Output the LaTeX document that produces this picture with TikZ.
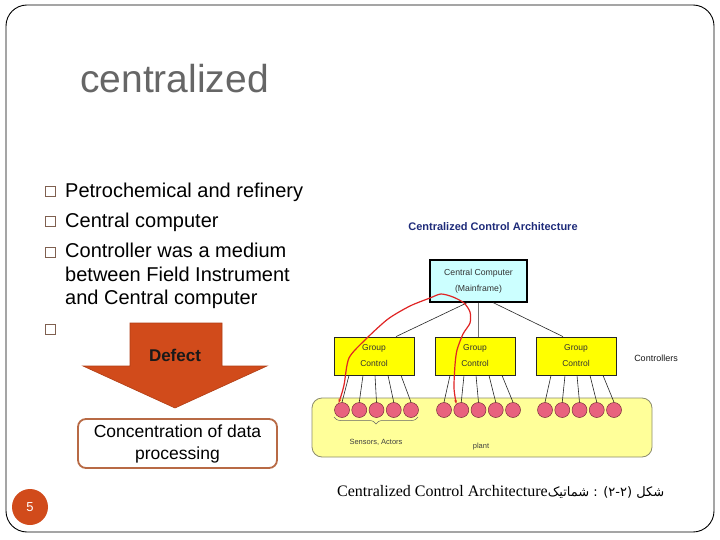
\documentclass[tikz,border=0pt]{standalone}
\usepackage{fontspec}
\setmainfont{Liberation Sans}
\newfontfamily\capserif{Liberation Serif}
\newfontfamily\arabicfont[Script=Arabic]{DejaVu Sans}
\TeXXeTstate=1
\usetikzlibrary{calc,decorations.pathreplacing,arrows.meta}
\definecolor{titlegray}{HTML}{666666}
\definecolor{arrowor}{HTML}{D14B1B}
\definecolor{arrowedge}{HTML}{B03E15}
\definecolor{boxbrown}{HTML}{B86A45}
\definecolor{bulletc}{HTML}{7F6050}
\definecolor{navyc}{HTML}{1E2B7A}
\definecolor{ccyan}{HTML}{CCFFFF}
\definecolor{gyellow}{HTML}{FFFF00}
\definecolor{plantfill}{HTML}{FFFF99}
\definecolor{plantedge}{HTML}{8C8C6E}
\definecolor{pinkc}{HTML}{E8627E}
\definecolor{pinkedge}{HTML}{7A2E3A}
\definecolor{redc}{HTML}{E02424}
\definecolor{dtext}{HTML}{333333}
\tikzset{
  bx/.style={draw=bulletc, line width=0.7pt, minimum size=10pt, inner sep=0pt},
  bt/.style={anchor=base west, inner sep=0pt, font=\fontsize{20}{23}\selectfont},
  ccbox/.style={draw=black, line width=1.1pt, fill=ccyan, minimum width=97pt, minimum height=42pt, align=center, inner sep=0pt, text=dtext, font=\fontsize{8.7}{16}\selectfont},
  gcbox/.style={draw=black!85, line width=0.8pt, fill=gyellow, minimum width=80pt, minimum height=38pt, align=center, inner sep=0pt, text=dtext, font=\fontsize{8.5}{16}\selectfont},
  sensor/.style={circle, draw=pinkedge, line width=0.5pt, fill=pinkc, minimum size=15pt, inner sep=0pt},
  thinline/.style={draw=black!85, line width=0.6pt},
}
\begin{document}
\begin{tikzpicture}[x=1pt, y=-1pt]
\useasboundingbox (0,0) rectangle (720,540);
\fill[white] (0,0) rectangle (720,540);
% outer frame
\draw[line width=0.9pt, rounded corners=21pt] (6,5) rectangle (714,532);
% title
\node[anchor=base west, inner sep=0pt, font=\fontsize{39}{46}\selectfont, text=titlegray] (title) at (80,93) {centralized};
% bullets
\node[bx] (s1) at (50.5,191.5) {};
\node[bx] (s2) at (50.5,221.5) {};
\node[bx] (s3) at (50.5,252.5) {};
\node[bx] (s4) at (50.5,329) {};
\node[bt] (t1) at (65,197) {Petrochemical and refinery};
\node[bt] (t2) at (65,227) {Central computer};
\node[bt] (t3) at (65,258) {Controller was a medium};
\node[bt] (t4) at (65,281) {between Field Instrument};
\node[bt] (t5) at (65,304) {and Central computer};
% block arrow
\path[draw=arrowedge, fill=arrowor, line width=0.6pt] (130,323) -- (222,323) -- (222,366) -- (267,366) -- (175,408) -- (83,366) -- (130,366) -- cycle;
\node[font=\bfseries\fontsize{17}{20}\selectfont, text=black!90] (defect) at (175,355) {Defect};
\node[draw=boxbrown, line width=1.8pt, rounded corners=8pt, fill=white, minimum width=199pt, minimum height=49pt, align=center, inner sep=0pt, font=\fontsize{17.5}{22}\selectfont] (conc) at (177.5,443.5) {Concentration of data\\processing};
% page number
\node[circle, fill=arrowor, minimum size=36pt, inner sep=0pt, text=white, font=\fontsize{13}{15}\selectfont] (pg) at (30,507) {5};
% diagram
\node[font=\bfseries\fontsize{11}{13}\selectfont, text=navyc] (dtitle) at (493,227) {Centralized Control Architecture};
\node[draw=plantedge, line width=0.8pt, fill=plantfill, rounded corners=10pt, minimum width=340pt, minimum height=59pt] (plant) at (482,427.5) {};
\node[ccbox] (CC) at (478.5,281) {Central Computer\\(Mainframe)};
\node[gcbox] (GL) at (374,356) {Group\\Control};
\node[gcbox] (GM) at (475,356) {Group\\Control};
\node[gcbox] (GR) at (576,356) {Group\\Control};
\foreach \g/\xs in {L/342,M/444,R/545}{
  \foreach \i in {1,...,5}{
    \node[sensor] (\g\i) at ({\xs+17.25*(\i-1)},410) {};
  }
}
\foreach \g in {L,M,R}{
  \foreach \i/\o in {1/-25,2/-11,3/1,4/14,5/27}{
    \draw[thinline] ($(G\g.south)+(\o,0)$) -- (\g\i.north);
  }
}
\draw[thinline] ($(CC.south)+(-11,0)$) -- ($(GL.north)+(22,0)$);
\draw[draw=black!55, line width=1.3pt] (CC.south) -- (CC.south |- GM.north);
\draw[thinline] ($(CC.south)+(14.5,0)$) -- ($(GR.north)+(-13,0)$);
\node[font=\fontsize{9}{11}\selectfont, text=black!90] (ctrl) at (656,358) {Controllers};
\draw[decorate, decoration={brace, mirror, amplitude=7pt}, draw=black!60, line width=0.5pt] (334,417) -- (418,417);
\node[font=\fontsize{7.5}{9}\selectfont, text=black!75] (sens) at (376,442) {Sensors, Actors};
\node[font=\fontsize{7.5}{9}\selectfont, text=black!75] (plantlbl) at (481,447) {plant};
% red curve
\draw[redc, line width=1.2pt, line join=round, {Stealth[length=4pt,width=2.6pt]}-{Stealth[length=4pt,width=2.6pt]}] plot[smooth, tension=0.45] coordinates {(L1.115) (344,385) (349,358) (366,339) (388,319) (410,306) (430,298) (441,294) (453,297) (464,303) (470,312) (470,323) (463,334) (457,350) (455,365) (454,388) (M2.130)};
% caption
\node[anchor=base west, inner sep=0pt, font=\capserif\fontsize{16}{18}\selectfont] (cap) at (337,496) {Centralized Control Architecture{\arabicfont\fontsize{13}{15}\selectfont\beginR شماتیک\endR{} : (۲-۲) \beginR شکل\endR}};
\end{tikzpicture}
\end{document}
